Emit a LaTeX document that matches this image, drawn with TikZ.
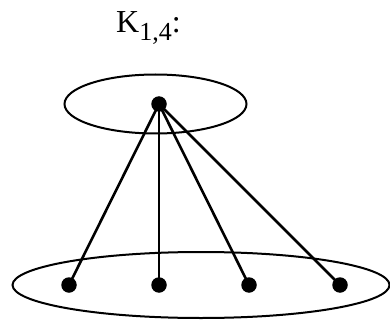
\documentclass[tikz,border=0pt]{standalone}
\usepackage{fontspec}
\setmainfont{Liberation Serif}
\usetikzlibrary{shapes.geometric}
\tikzset{
  vtx/.style={circle,fill=black,draw=none,minimum size=15.5pt,inner sep=0pt},
  grp/.style={ellipse,draw=black,line width=2pt,inner sep=0pt},
  edge/.style={line width=2.6pt,draw=black}
}
\begin{document}
\begin{tikzpicture}[x=1pt,y=-1pt]
\useasboundingbox (0,0) rectangle (390,323);
\node[grp,minimum width=182pt,minimum height=59pt] (gtop) at (155.5,104) {};
\node[grp,minimum width=377pt,minimum height=66pt] (gbot) at (201,285) {};
\node[anchor=base west,inner sep=0pt] (title) at (116,33)
  {\fontsize{32}{36}\selectfont K\raisebox{-8pt}{\fontsize{26}{30}\selectfont 1,4}:};
\node[vtx] (c) at (159,104) {};
\node[vtx] (b1) at (69,285) {};
\node[vtx] (b2) at (159,285) {};
\node[vtx] (b3) at (249,285) {};
\node[vtx] (b4) at (340,285) {};
\foreach \b in {b1,b2,b3,b4} \draw[edge] (c.center) -- (\b.center);
\end{tikzpicture}
\end{document}
